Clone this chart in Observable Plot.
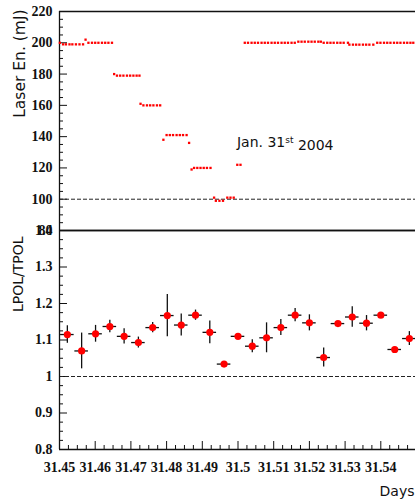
<!DOCTYPE html>
<html>
<head>
<meta charset="utf-8">
<script src="https://cdn.jsdelivr.net/npm/d3@7"></script>
<script src="https://cdn.jsdelivr.net/npm/@observablehq/plot@0.6"></script>
<style>
  html, body { margin: 0; padding: 0; background: #fff; overflow: hidden; }
  #chart { position: relative; width: 416px; height: 504px; }
  #chart svg { position: absolute; left: 0; overflow: visible; max-width: none; }
</style>
</head>
<body>
<div id="chart"></div>
<script>
// Laser pulse energy over the run (day of year, mJ)
const laserDay = [
  31.4501, 31.4510, 31.4518, 31.4528, 31.4536, 31.4546, 31.4556, 31.4566, 31.4573,
  31.4581, 31.4591, 31.4600, 31.4609, 31.4619, 31.4628, 31.4637, 31.4647,
  31.4653, 31.4661, 31.4670, 31.4679, 31.4689, 31.4698, 31.4707, 31.4716, 31.4724,
  31.4727, 31.4735, 31.4745, 31.4754, 31.4763, 31.4773, 31.4782,
  31.4791, 31.4800, 31.4809, 31.4818, 31.4828, 31.4837, 31.4846, 31.4856, 31.4863,
  31.4870, 31.4877, 31.4886, 31.4895, 31.4904, 31.4913, 31.4923,
  31.4933, 31.4938, 31.4948, 31.4958, 31.4970, 31.4979, 31.4988,
  31.4998, 31.5007,
  31.5019, 31.5028, 31.5038, 31.5047, 31.5056, 31.5066, 31.5075, 31.5084,
  31.5094, 31.5103, 31.5112, 31.5122, 31.5131, 31.5140, 31.5150, 31.5159,
  31.5169, 31.5178, 31.5187, 31.5197, 31.5206, 31.5215, 31.5225, 31.5232,
  31.5240, 31.5250, 31.5259, 31.5268, 31.5278, 31.5287, 31.5296, 31.5308,
  31.5312, 31.5322, 31.5331, 31.5340, 31.5350, 31.5359, 31.5368, 31.5379,
  31.5390, 31.5399, 31.5409, 31.5418, 31.5427, 31.5437, 31.5446, 31.5455,
  31.5465, 31.5474, 31.5483, 31.5491
];
const laserMJ = [
  200, 199, 199, 199, 199, 199, 199, 199, 202,
  200, 200, 200, 200, 200, 200, 200, 200,
  180, 179, 179, 179, 179, 179, 179, 179, 179,
  161, 160, 160, 160, 160, 160, 160,
  138, 141, 141, 141, 141, 141, 141, 141, 136,
  119, 120, 120, 120, 120, 120, 120,
  101, 99, 99, 99, 101, 101, 101,
  122, 122,
  200, 200, 200, 200, 200, 200, 200, 200,
  200, 200, 200, 200, 200, 200, 200, 200,
  200.7, 200.7, 200.7, 200.7, 200.7, 200.7, 200.7, 200.7,
  200, 200, 200, 200, 200, 200, 200, 200,
  198.8, 198.8, 198.8, 198.8, 198.8, 198.8, 198.8, 198.8,
  200, 200, 200, 200, 200, 200, 200, 200,
  200, 200, 200, 200
];

// Polarimeter ratio per time bin, with statistical errors
const ratioDay = [
  31.4522, 31.4562, 31.4601, 31.4641, 31.4681, 31.4721, 31.4761, 31.4802, 31.4841,
  31.4881, 31.4921, 31.4961, 31.5000, 31.5040, 31.5080, 31.5120, 31.5160, 31.5200,
  31.5240, 31.5280, 31.5320, 31.5360, 31.5400, 31.5439, 31.5480
];
const ratioValue = [
  1.115, 1.070, 1.117, 1.137, 1.110, 1.093, 1.134, 1.167, 1.141,
  1.168, 1.121, 1.034, 1.110, 1.083, 1.106, 1.134, 1.168, 1.147,
  1.052, 1.145, 1.163, 1.146, 1.168, 1.074, 1.104
];
const ratioError = [
  0.024, 0.049, 0.023, 0.017, 0.021, 0.015, 0.014, 0.058, 0.030,
  0.014, 0.031, 0.006, 0.006, 0.018, 0.041, 0.022, 0.018, 0.022,
  0.026, 0.006, 0.028, 0.021, 0.006, 0.006, 0.019
];
const binHalfWidth = 0.0019;

// Axis ticks and labels
const dayTicks = [31.45, 31.46, 31.47, 31.48, 31.49, 31.50, 31.51, 31.52, 31.53, 31.54];
const dayTickLabels = ["31.45", "31.46", "31.47", "31.48", "31.49", "31.5", "31.51", "31.52", "31.53", "31.54"];
const energyTicks = [80, 100, 120, 140, 160, 180, 200, 220];
const energyTickLabels = ["80", "100", "120", "140", "160", "180", "200", "220"];
const ratioTicks = [0.8, 0.9, 1.0, 1.1, 1.2, 1.3, 1.4];
const ratioTickLabels = ["0.8", "0.9", "1", "1.1", "1.2", "1.3", "1.4"];

const energyReference = 100;
const ratioReference = 1;
const note = {day: 31.4997, mJ: 136, label: "Jan. 31st 2004"};

const dayDomain = [31.45, 31.55];
const energyDomain = [80, 220];
const ratioDomain = [0.8, 1.4];

const W = 416, ML = 59, FRAME_W = W - ML, FRAME_H = 219;
const ink = "#111";
const titleFont = {fontFamily: "DejaVu Sans", fontWeight: "normal", fontSize: 14};

const near = (a, b) => Math.abs(a - b) < 1e-9;
const minorEnergy = d3.range(80, 220.001, 5).filter(v => !energyTicks.some(t => near(t, v)));
const minorRatio = d3.range(0.8, 1.4001, 0.025).filter(v => !ratioTicks.some(t => near(t, v)));
const minorDay = d3.range(31.45, 31.5501, 0.0025).filter(v => !dayTicks.some(t => near(t, v)));

const laser = laserDay.map((d, i) => ({day: d, mJ: laserMJ[i]}));
const ratio = ratioDay.map((d, i) => ({day: d, v: ratioValue[i], e: ratioError[i]}));

const baseStyle = {
  fontFamily: "Liberation Serif", fontWeight: "bold", fontSize: "14px",
  background: "transparent", overflow: "visible", color: ink
};

// Upper panel: laser energy
const upper = Plot.plot({
  width: W, height: 231,
  marginLeft: ML, marginRight: 0, marginTop: 11, marginBottom: 1,
  style: baseStyle,
  x: {domain: dayDomain, axis: null},
  y: {domain: energyDomain},
  marks: [
    Plot.axisY(energyTicks, {
      tickSize: 0, tickPadding: 7, label: null,
      tickFormat: d => energyTickLabels[energyTicks.indexOf(d)]
    }),
    Plot.tickY(energyTicks, {y: d => d, insetRight: FRAME_W - 8, stroke: ink}),
    Plot.tickY(minorEnergy, {y: d => d, insetRight: FRAME_W - 4, stroke: ink}),
    Plot.ruleY([energyReference], {stroke: "#222", strokeWidth: 1, strokeDasharray: "4,2"}),
    Plot.ruleY([energyDomain[1]], {stroke: ink, strokeWidth: 1.3}),
    Plot.ruleY([energyDomain[0]], {stroke: ink, strokeWidth: 1.3}),
    Plot.ruleX([dayDomain[0]], {stroke: ink, strokeWidth: 1.3}),
    Plot.dot(laser, {x: "day", y: "mJ", symbol: "square", r: 1.3, fill: "#ff0000", stroke: null}),
    Plot.text([note], {x: "day", y: "mJ", text: "label", textAnchor: "start", ...titleFont, fontSize: 14}),
    Plot.text(["Laser En. (mJ)"], {
      frameAnchor: "top-left", rotate: -90, textAnchor: "end", dx: -46, dy: -2, ...titleFont, fontSize: 15.5
    })
  ]
});

// Lower panel: LPOL/TPOL ratio
const lower = Plot.plot({
  width: W, height: 274,
  marginLeft: ML, marginRight: 0, marginTop: 0, marginBottom: 55,
  style: baseStyle,
  x: {domain: dayDomain},
  y: {domain: ratioDomain},
  marks: [
    Plot.axisY(ratioTicks, {
      tickSize: 0, tickPadding: 7, label: null,
      tickFormat: d => ratioTickLabels[ratioTicks.findIndex(t => near(t, d))]
    }),
    Plot.axisX(dayTicks, {
      tickSize: 0, tickPadding: 13, label: null,
      tickFormat: d => dayTickLabels[dayTicks.findIndex(t => near(t, d))]
    }),
    Plot.tickY(ratioTicks, {y: d => d, insetRight: FRAME_W - 8, stroke: ink}),
    Plot.tickY(minorRatio, {y: d => d, insetRight: FRAME_W - 4, stroke: ink}),
    Plot.tickX(dayTicks, {x: d => d, insetTop: FRAME_H - 8, stroke: ink}),
    Plot.tickX(minorDay, {x: d => d, insetTop: FRAME_H - 4, stroke: ink}),
    Plot.ruleY([ratioReference], {stroke: "#222", strokeWidth: 1, strokeDasharray: "4,2"}),
    Plot.ruleY([ratioDomain[1]], {stroke: ink, strokeWidth: 1.3}),
    Plot.ruleY([ratioDomain[0]], {stroke: ink, strokeWidth: 1.3}),
    Plot.ruleX([dayDomain[0]], {stroke: ink, strokeWidth: 1.3}),
    Plot.ruleY(ratio, {y: "v", x1: d => d.day - binHalfWidth, x2: d => d.day + binHalfWidth, stroke: ink, strokeWidth: 1.3}),
    Plot.ruleX(ratio, {x: "day", y1: d => d.v - d.e, y2: d => d.v + d.e, stroke: ink, strokeWidth: 1.3}),
    Plot.dot(ratio, {x: "day", y: "v", r: 3.6, fill: "#ff0000", stroke: null}),
    Plot.text(["LPOL/TPOL"], {
      frameAnchor: "top-left", rotate: -90, textAnchor: "end", dx: -46, dy: 6, ...titleFont
    }),
    Plot.text(["Days"], {
      frameAnchor: "bottom-right", textAnchor: "end", dx: -2, dy: 46, ...titleFont
    })
  ]
});

// Superscript ordinal in the date note
d3.select(upper).selectAll("text").each(function () {
  if (this.textContent === note.label) {
    const t = d3.select(this).text("");
    t.append("tspan").text("Jan. 31");
    t.append("tspan").attr("font-size", 9).attr("dy", "-0.45em").text("st");
    t.append("tspan").attr("dy", "0.45em").text(" 2004");
  }
});

upper.style.top = "0px";
lower.style.top = "230px";
const root = document.getElementById("chart");
root.append(upper, lower);
</script>
</body>
</html>
